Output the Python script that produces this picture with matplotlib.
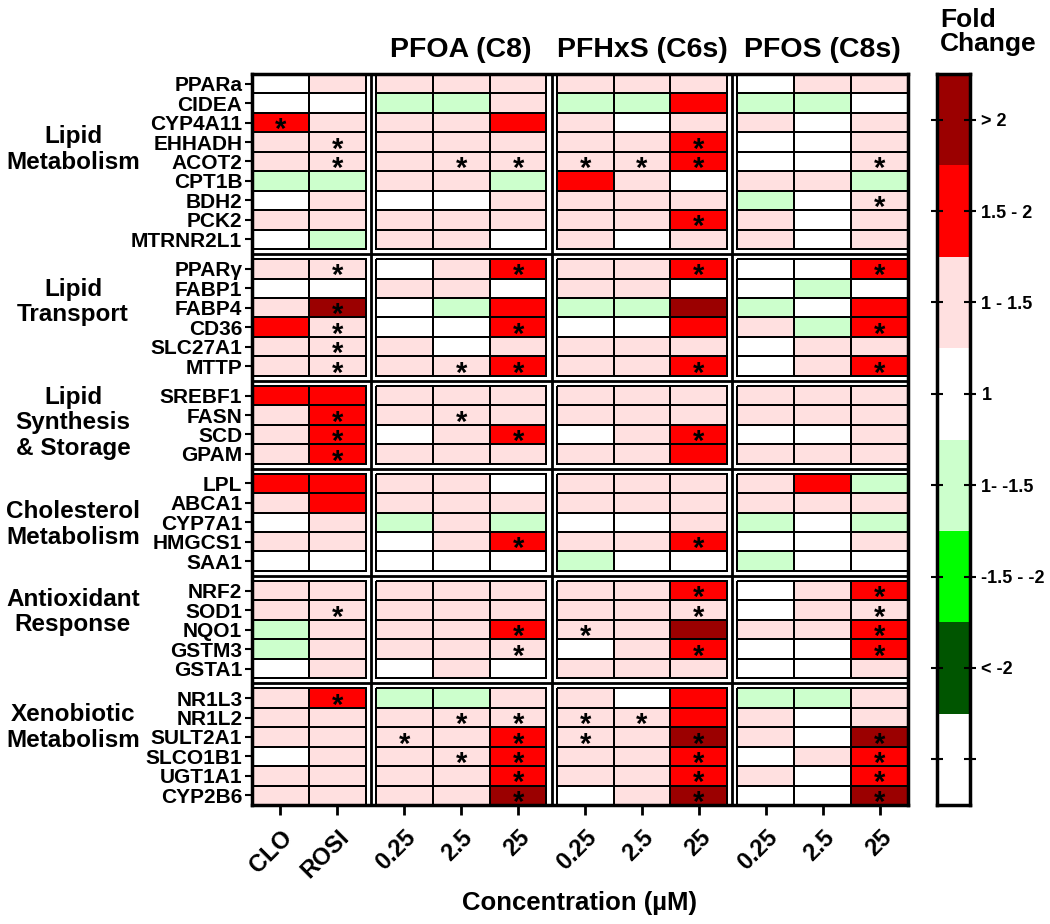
import matplotlib
matplotlib.use("Agg")
import matplotlib.pyplot as plt
import numpy as np
from matplotlib.colors import ListedColormap, BoundaryNorm
from matplotlib import transforms

plt.rcParams['font.family'] = ['Liberation Sans', 'DejaVu Sans']
plt.rcParams['font.weight'] = 'bold'

# ---- data ----
columns = ["CLO", "ROSI", "0.25", "2.5", "25", "0.25", "2.5", "25", "0.25", "2.5", "25"]
col_group_sizes = [2, 3, 3, 3]
compounds = ["", "PFOA (C8)", "PFHxS (C6s)", "PFOS (C8s)"]

groups = ["Lipid\nMetabolism", "Lipid\nTransport", "Lipid\nSynthesis\n& Storage",
          "Cholesterol\nMetabolism", "Antioxidant\nResponse", "Xenobiotic\nMetabolism"]
group_sizes = [9, 6, 4, 5, 5, 6]
genes = ["PPARa", "CIDEA", "CYP4A11", "EHHADH", "ACOT2", "CPT1B", "BDH2", "PCK2", "MTRNR2L1",
         "PPARγ", "FABP1", "FABP4", "CD36", "SLC27A1", "MTTP",
         "SREBF1", "FASN", "SCD", "GPAM",
         "LPL", "ABCA1", "CYP7A1", "HMGCS1", "SAA1",
         "NRF2", "SOD1", "NQO1", "GSTM3", "GSTA1",
         "NR1L3", "NR1L2", "SULT2A1", "SLCO1B1", "UGT1A1", "CYP2B6"]

# fold change class: 3 (>2), 2 (1.5-2), 1 (1-1.5), 0 (1), -1 (1- -1.5), -2 (-1.5- -2), -3 (<-2)
fold = [
    [0, 1, 1, 1, 1, 1, 1, 1, 0, 1, 1],
    [0, 0, -1, -1, 1, -1, -1, 2, -1, -1, 0],
    [2, 1, 1, 1, 2, 1, 0, 1, 1, 0, 1],
    [1, 1, 1, 1, 1, 1, 1, 2, 0, 0, 1],
    [1, 1, 1, 1, 1, 1, 1, 2, 0, 0, 1],
    [-1, -1, 1, 1, -1, 2, 1, 0, 1, 1, -1],
    [0, 1, 0, 0, 1, 1, 1, 1, -1, 0, 1],
    [1, 1, 1, 1, 1, 1, 1, 2, 1, 0, 1],
    [0, -1, 1, 1, 0, 1, 0, 1, 1, 0, 1],
    [1, 1, 0, 1, 2, 1, 1, 2, 0, 0, 2],
    [0, 0, 1, 1, 0, 1, 1, 0, 0, -1, 0],
    [1, 3, 0, -1, 2, -1, -1, 3, -1, 0, 2],
    [2, 1, 0, 0, 2, 0, 0, 2, 1, -1, 2],
    [1, 1, 1, 0, 1, 1, 1, 1, 0, 1, 1],
    [1, 1, 1, 1, 2, 1, 1, 2, 0, 1, 2],
    [2, 2, 1, 1, 1, 1, 1, 1, 1, 1, 1],
    [1, 2, 1, 1, 1, 1, 1, 1, 1, 1, 1],
    [1, 2, 0, 1, 2, 0, 1, 2, 0, 0, 1],
    [1, 2, 1, 1, 1, 1, 1, 2, 1, 1, 1],
    [2, 2, 1, 1, 0, 1, 1, 1, 1, 2, -1],
    [1, 2, 1, 1, 1, 1, 1, 1, 1, 1, 1],
    [0, 1, -1, 1, -1, 0, 0, 1, -1, 0, -1],
    [1, 1, 0, 1, 2, 1, 1, 2, 0, 0, 1],
    [0, 0, 0, 0, 0, -1, 0, 0, -1, 0, 0],
    [1, 1, 1, 1, 1, 1, 1, 2, 0, 1, 2],
    [1, 1, 1, 1, 1, 1, 1, 1, 0, 1, 1],
    [-1, 1, 1, 1, 2, 1, 1, 3, 1, 1, 2],
    [-1, 1, 1, 1, 1, 0, 1, 2, 0, 0, 2],
    [0, 1, 0, 1, 0, 1, 1, 1, 0, 0, 1],
    [1, 2, -1, -1, 1, 1, 0, 2, -1, -1, 1],
    [1, 1, 1, 1, 1, 1, 1, 2, 1, 0, 1],
    [1, 1, 1, 1, 2, 1, 1, 3, 1, 0, 3],
    [0, 1, 1, 1, 2, 1, 1, 2, 0, 1, 2],
    [1, 1, 1, 1, 2, 1, 1, 2, 1, 0, 2],
    [1, 1, 1, 1, 3, 0, 1, 3, 0, 0, 3],
]

# 1 = significant (*)
sig = [
    [0, 0, 0, 0, 0, 0, 0, 0, 0, 0, 0],
    [0, 0, 0, 0, 0, 0, 0, 0, 0, 0, 0],
    [1, 0, 0, 0, 0, 0, 0, 0, 0, 0, 0],
    [0, 1, 0, 0, 0, 0, 0, 1, 0, 0, 0],
    [0, 1, 0, 1, 1, 1, 1, 1, 0, 0, 1],
    [0, 0, 0, 0, 0, 0, 0, 0, 0, 0, 0],
    [0, 0, 0, 0, 0, 0, 0, 0, 0, 0, 1],
    [0, 0, 0, 0, 0, 0, 0, 1, 0, 0, 0],
    [0, 0, 0, 0, 0, 0, 0, 0, 0, 0, 0],
    [0, 1, 0, 0, 1, 0, 0, 1, 0, 0, 1],
    [0, 0, 0, 0, 0, 0, 0, 0, 0, 0, 0],
    [0, 1, 0, 0, 0, 0, 0, 0, 0, 0, 0],
    [0, 1, 0, 0, 1, 0, 0, 0, 0, 0, 1],
    [0, 1, 0, 0, 0, 0, 0, 0, 0, 0, 0],
    [0, 1, 0, 1, 1, 0, 0, 1, 0, 0, 1],
    [0, 0, 0, 0, 0, 0, 0, 0, 0, 0, 0],
    [0, 1, 0, 1, 0, 0, 0, 0, 0, 0, 0],
    [0, 1, 0, 0, 1, 0, 0, 1, 0, 0, 0],
    [0, 1, 0, 0, 0, 0, 0, 0, 0, 0, 0],
    [0, 0, 0, 0, 0, 0, 0, 0, 0, 0, 0],
    [0, 0, 0, 0, 0, 0, 0, 0, 0, 0, 0],
    [0, 0, 0, 0, 0, 0, 0, 0, 0, 0, 0],
    [0, 0, 0, 0, 1, 0, 0, 1, 0, 0, 0],
    [0, 0, 0, 0, 0, 0, 0, 0, 0, 0, 0],
    [0, 0, 0, 0, 0, 0, 0, 1, 0, 0, 1],
    [0, 1, 0, 0, 0, 0, 0, 1, 0, 0, 1],
    [0, 0, 0, 0, 1, 1, 0, 0, 0, 0, 1],
    [0, 0, 0, 0, 1, 0, 0, 1, 0, 0, 1],
    [0, 0, 0, 0, 0, 0, 0, 0, 0, 0, 0],
    [0, 1, 0, 0, 0, 0, 0, 0, 0, 0, 0],
    [0, 0, 0, 1, 1, 1, 1, 0, 0, 0, 0],
    [0, 0, 1, 0, 1, 1, 0, 1, 0, 0, 1],
    [0, 0, 0, 1, 1, 0, 0, 1, 0, 0, 1],
    [0, 0, 0, 0, 1, 0, 0, 1, 0, 0, 1],
    [0, 0, 0, 0, 1, 0, 0, 1, 0, 0, 1],
]

# legend bands, top to bottom
band_colors = ["#9B0000", "#FF0000", "#FFE0E0", "#FFFFFF", "#CCFFCC", "#00FF00", "#005500", "#FFFFFF"]
band_labels = ["> 2", "1.5 - 2", "1 - 1.5", "1", "1- -1.5", "-1.5 - -2", "< -2", ""]

# ---- layout ----
gap_c = 0.18
gap_r = 0.52
label_offsets = [3.9, 2.2, 1.9, 2.6, 1.6, 2.0]  # group label centre, rows from block top

fold = np.array(fold)
sig = np.array(sig)
n_rows, n_cols = fold.shape

col_grp = np.repeat(np.arange(len(col_group_sizes)), col_group_sizes)
row_grp = np.repeat(np.arange(len(group_sizes)), group_sizes)
col_left = np.arange(n_cols) + gap_c * col_grp
row_top = np.arange(n_rows) + gap_r * row_grp

cmap = ListedColormap(band_colors[6::-1])
norm = BoundaryNorm(np.arange(-3.5, 4.5, 1), cmap.N)

fig = plt.figure(figsize=(10.5, 9.24), dpi=100)
ax = fig.add_axes([0.240, 0.1288, 0.6248, 0.7911])

for gi in range(len(group_sizes)):
    rows = np.where(row_grp == gi)[0]
    for ci in range(len(col_group_sizes)):
        cols = np.where(col_grp == ci)[0]
        X = np.append(col_left[cols], col_left[cols[-1]] + 1)
        Y = np.append(row_top[rows], row_top[rows[-1]] + 1)
        ax.pcolormesh(X, Y, fold[np.ix_(rows, cols)], cmap=cmap, norm=norm,
                      edgecolors="black", linewidth=1.2)

# separators between blocks
for ci in range(1, len(col_group_sizes)):
    first = np.where(col_grp == ci)[0][0]
    ax.axvline(col_left[first] - gap_c / 2, color="black", lw=2)
for gi in range(1, len(group_sizes)):
    first = np.where(row_grp == gi)[0][0]
    ax.axhline(row_top[first] - gap_r / 2, color="black", lw=2)

# significance stars
for r in range(n_rows):
    for c in range(n_cols):
        if sig[r, c]:
            ax.text(col_left[c] + 0.5, row_top[r] + 1.3, "*", ha="center", va="baseline",
                    fontsize=21, fontweight="bold", color="black")

ax.set_xlim(0, col_left[-1] + 1)
ax.set_ylim(row_top[-1] + 1, 0)

ax.set_yticks(row_top + 0.5)
ax.set_yticklabels(genes, fontsize=15, fontweight="bold")
ax.set_xticks(col_left + 0.5)
ax.set_xticklabels(columns, fontsize=17, fontweight="bold", rotation=45,
                   ha="right", va="top", rotation_mode="anchor")
ax.tick_params(axis="y", length=5, width=1.5, pad=2)
ax.tick_params(axis="x", length=7, width=2, pad=8)
for s in ax.spines.values():
    s.set_linewidth(2.5)

# compound headers
hdr = transforms.blended_transform_factory(ax.transData, ax.transAxes)
for ci, name in enumerate(compounds):
    if not name:
        continue
    cols = np.where(col_grp == ci)[0]
    xc = (col_left[cols[0]] + col_left[cols[-1]] + 1) / 2
    ax.text(xc, 1.033, name, transform=hdr, ha="center", va="center",
            fontsize=20.5, fontweight="bold")

# group labels
glab = transforms.blended_transform_factory(fig.transFigure, ax.transData)
for gi, name in enumerate(groups):
    first = np.where(row_grp == gi)[0][0]
    ax.text(0.0695, row_top[first] + label_offsets[gi], name, transform=glab,
            ha="center", va="center", fontsize=17.5, fontweight="bold", linespacing=1.15)

fig.text(0.552, 0.023, "Concentration (µM)", ha="center", va="center",
         fontsize=18.5, fontweight="bold")

# legend bar
cax = fig.add_axes([0.892, 0.1288, 0.0314, 0.7911])
n_b = len(band_colors)
cax.pcolormesh([0, 1], np.arange(n_b + 1), np.arange(n_b).reshape(-1, 1),
               cmap=ListedColormap(band_colors), norm=BoundaryNorm(np.arange(n_b + 1) - 0.5, n_b))
cax.set_ylim(n_b, 0)
cax.set_xlim(0, 1)
cax.set_xticks([])
cax.set_yticks(np.arange(n_b) + 0.5)
cax.set_yticklabels(band_labels, fontsize=13, fontweight="bold")
cax.tick_params(axis="y", left=True, right=True, labelleft=False, labelright=True,
                direction="inout", length=9, width=1.5, pad=4)
for s in cax.spines.values():
    s.set_linewidth(2.5)

fig.text(0.895, 0.965, "Fold\nChange", ha="left", va="center", fontsize=19,
         fontweight="bold", linespacing=1.0)

fig.savefig("out.png", dpi=100)
